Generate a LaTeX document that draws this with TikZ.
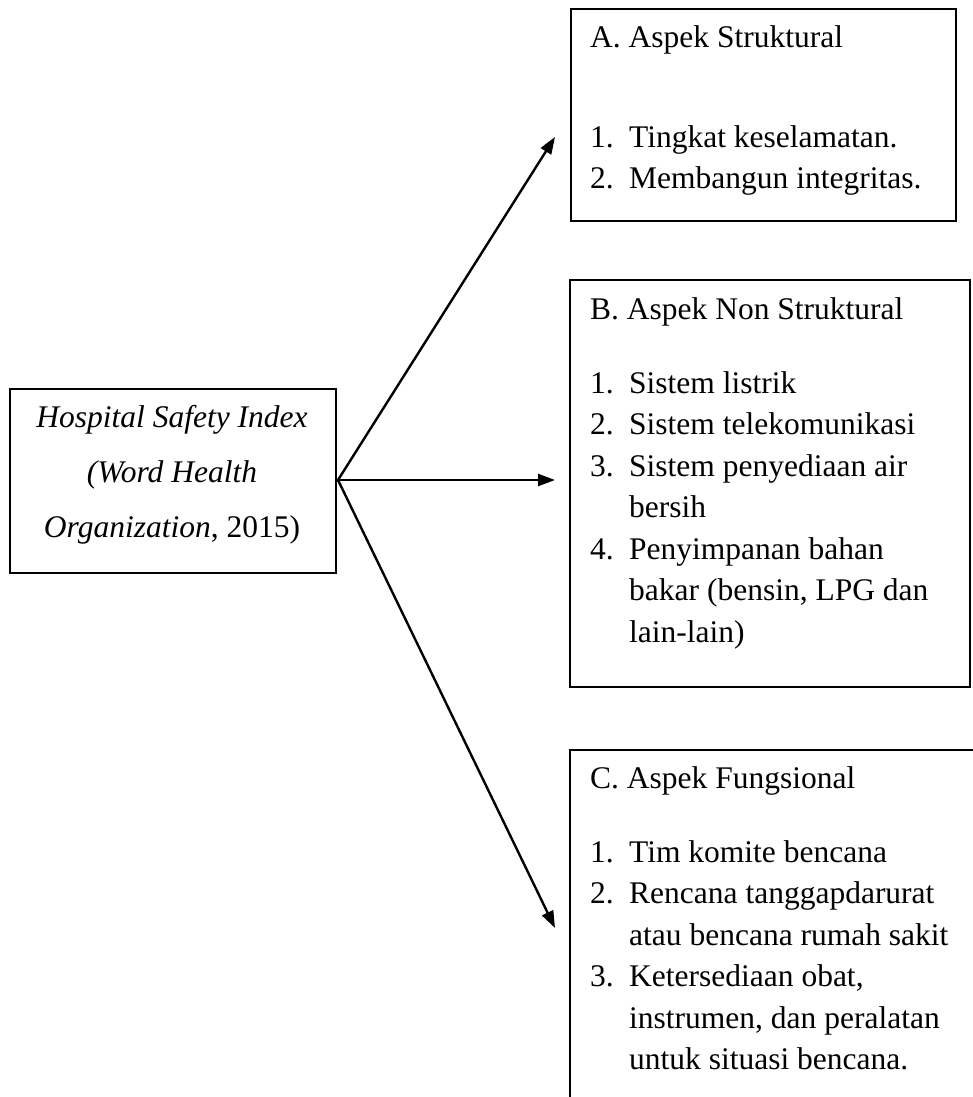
\documentclass[tikz,border=0pt]{standalone}
\usepackage{fontspec}
\setmainfont{Liberation Serif}
\usetikzlibrary{arrows.meta}
\tikzset{
  frame/.style={draw=black, line width=2pt, inner sep=0pt, anchor=north west},
  txt/.style={inner sep=0pt, anchor=base west, font=\fontsize{31.5}{41.5}\selectfont},
  ctxt/.style={inner sep=0pt, anchor=base, font=\fontsize{31.5}{41.5}\selectfont},
  arr/.style={line width=2.4pt, -{Triangle[length=17pt,width=12pt]}}
}
\begin{document}
\begin{tikzpicture}[x=1pt,y=-1pt]
\useasboundingbox (0,0) rectangle (973,1097);
\clip (0,0) rectangle (973,1097);
% left box
\node[frame, minimum width=326pt, minimum height=184pt] (src) at (9,388) {};
\node[ctxt] (s1) at (172,427) {\itshape Hospital Safety Index};
\node[ctxt] (s2) at (172,482) {\itshape (Word Health};
\node[ctxt] (s3) at (172,537) {\textit{Organization}, 2015)};
% box A
\node[frame, minimum width=385pt, minimum height=212pt] (A) at (570,8) {};
\node[txt] (a0) at (590,48) {A. Aspek Struktural};
\node[txt] (a1n) at (590,147) {1.};
\node[txt] (a1) at (629,147) {Tingkat keselamatan.};
\node[txt] (a2n) at (590,188) {2.};
\node[txt] (a2) at (629,188) {Membangun integritas.};
% box B
\node[frame, minimum width=400pt, minimum height=407pt] (B) at (569,279) {};
\node[txt] (b0) at (590,319) {B. Aspek Non Struktural};
\node[txt] (b1n) at (590,393) {1.};
\node[txt] (b1) at (629,393) {Sistem listrik};
\node[txt] (b2n) at (590,434.5) {2.};
\node[txt] (b2) at (629,434.5) {Sistem telekomunikasi};
\node[txt] (b3n) at (590,476) {3.};
\node[txt] (b3) at (629,476) {Sistem penyediaan air};
\node[txt] (b3b) at (629,517.5) {bersih};
\node[txt] (b4n) at (590,559) {4.};
\node[txt] (b4) at (629,559) {Penyimpanan bahan};
\node[txt] (b4b) at (629,600.5) {bakar (bensin, LPG dan};
\node[txt] (b4c) at (629,642) {lain-lain)};
% box C
\node[frame, minimum width=420pt, minimum height=400pt] (C) at (569,749) {};
\node[txt] (c0) at (590,788) {C. Aspek Fungsional};
\node[txt] (c1n) at (590,862) {1.};
\node[txt] (c1) at (629,862) {Tim komite bencana};
\node[txt] (c2n) at (590,903.5) {2.};
\node[txt] (c2) at (629,903.5) {Rencana tanggapdarurat};
\node[txt] (c2b) at (629,945) {atau bencana rumah sakit};
\node[txt] (c3n) at (590,986.5) {3.};
\node[txt] (c3) at (629,986.5) {Ketersediaan obat,};
\node[txt] (c3b) at (629,1028) {instrumen, dan peralatan};
\node[txt] (c3c) at (629,1069.5) {untuk situasi bencana.};
% arrows
\coordinate (o) at (338,480);
\coordinate (tA) at (555,137);
\coordinate (tB) at (555,480);
\coordinate (tC) at (555,928);
\draw[arr] (o) -- (tA);
\draw[arr] (o) -- (tB);
\draw[arr] (o) -- (tC);
\draw[line width=2.4pt] (src.east) -- (o);
\end{tikzpicture}
\end{document}
